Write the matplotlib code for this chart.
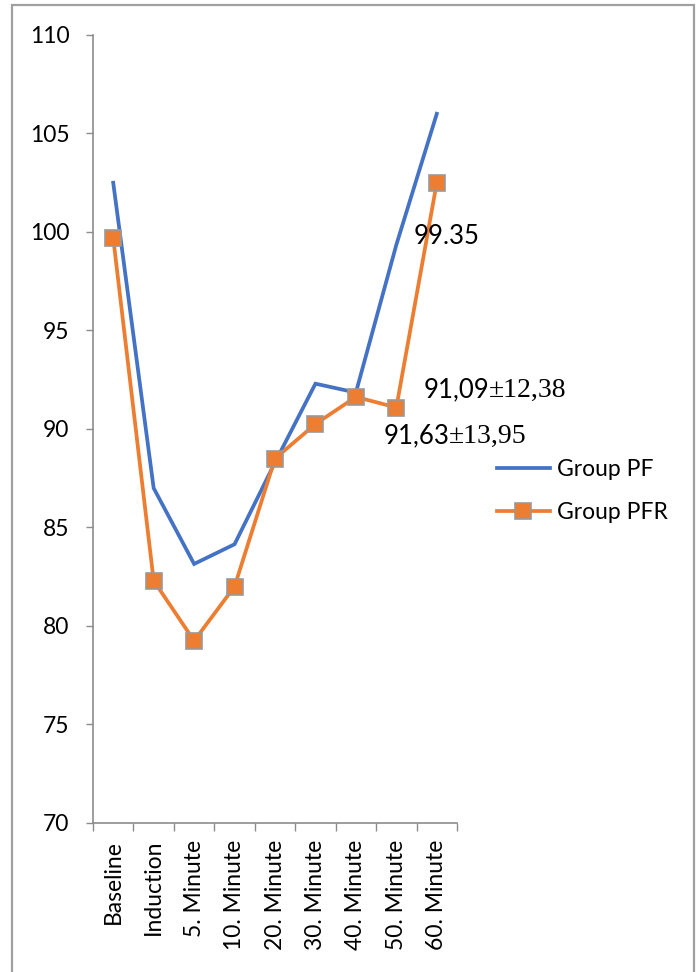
import numpy as np
import matplotlib
matplotlib.use('Agg')
import matplotlib.pyplot as plt
from matplotlib.patches import Rectangle

plt.rcParams['font.family'] = ['Lato', 'DejaVu Sans']

categories = ['Baseline', 'Induction', '5. Minute', '10. Minute', '20. Minute',
              '30. Minute', '40. Minute', '50. Minute', '60. Minute']
group_pf = [102.5, 87.0, 83.15, 84.15, 88.3, 92.3, 91.85, 99.35, 106.0]
group_pfr = [99.7, 82.3, 79.25, 82.0, 88.5, 90.25, 91.63, 91.09, 102.5]
yticks = [70, 75, 80, 85, 90, 95, 100, 105, 110]

BLUE = '#4472C4'
ORANGE = '#ED7D31'
AXIS_GRAY = '#8C8C8C'

fig = plt.figure(figsize=(6.99, 9.72), dpi=100)
ax = fig.add_axes([93 / 699, 1 - 823 / 972, (457 - 93) / 699, (823 - 35) / 972])

x = np.arange(len(categories))
ax.plot(x, group_pf, color=BLUE, lw=2.7, label='Group PF', solid_joinstyle='miter')
ax.plot(x, group_pfr, color=ORANGE, lw=2.7, marker='s', markersize=11.5,
        markerfacecolor=ORANGE, markeredgecolor='#999999', markeredgewidth=1.2,
        label='Group PFR')

ax.set_xlim(-0.5, len(categories) - 0.5)
ax.set_ylim(70, 110)
ax.set_yticks(yticks)
ax.tick_params(axis='y', length=5, width=1, color=AXIS_GRAY, pad=12, labelsize=16.5)

ax.set_xticks(x)
ax.set_xticklabels(categories, rotation=90, fontsize=16.5)
ax.set_xticks(np.arange(len(categories) + 1) - 0.5, minor=True)
ax.tick_params(axis='x', which='major', length=0, pad=12)
ax.tick_params(axis='x', which='minor', length=6, width=1, color=AXIS_GRAY)

for side in ['top', 'right']:
    ax.spines[side].set_visible(False)
for side in ['left', 'bottom']:
    ax.spines[side].set_color(AXIS_GRAY)
    ax.spines[side].set_linewidth(1.2)

# value labels
ax.text(7.43, group_pf[7] + 0.4, f'{group_pf[7]:.2f}', fontsize=18.5, va='center', ha='left')


def mean_sd(xpos, ypos, mean, sd):
    t1 = ax.text(xpos, ypos, f'{mean:.2f}'.replace('.', ','), fontsize=18.5,
                 va='baseline', ha='left')
    ax.annotate('±' + f'{sd:.2f}'.replace('.', ','), xy=(1, 0), xycoords=t1,
                fontsize=20, family='Liberation Serif', va='bottom', ha='left')


mean_sd(7.67, 91.6, group_pfr[7], 12.38)
mean_sd(6.68, 89.25, group_pfr[6], 13.95)

ax.legend(loc='center left', bbox_to_anchor=(497 / 699, 1 - 491 / 972),
          bbox_transform=fig.transFigure, frameon=False, fontsize=16.5,
          handlelength=2.3, handletextpad=0.3, labelspacing=0.95, borderpad=0,
          borderaxespad=0)

fig.add_artist(Rectangle((12 / 699, -0.05), (694 - 12) / 699, 1.05 - 5 / 972,
                         transform=fig.transFigure, fill=False,
                         edgecolor='#A0A0A0', lw=1.6))

fig.savefig('out.png', dpi=100)
